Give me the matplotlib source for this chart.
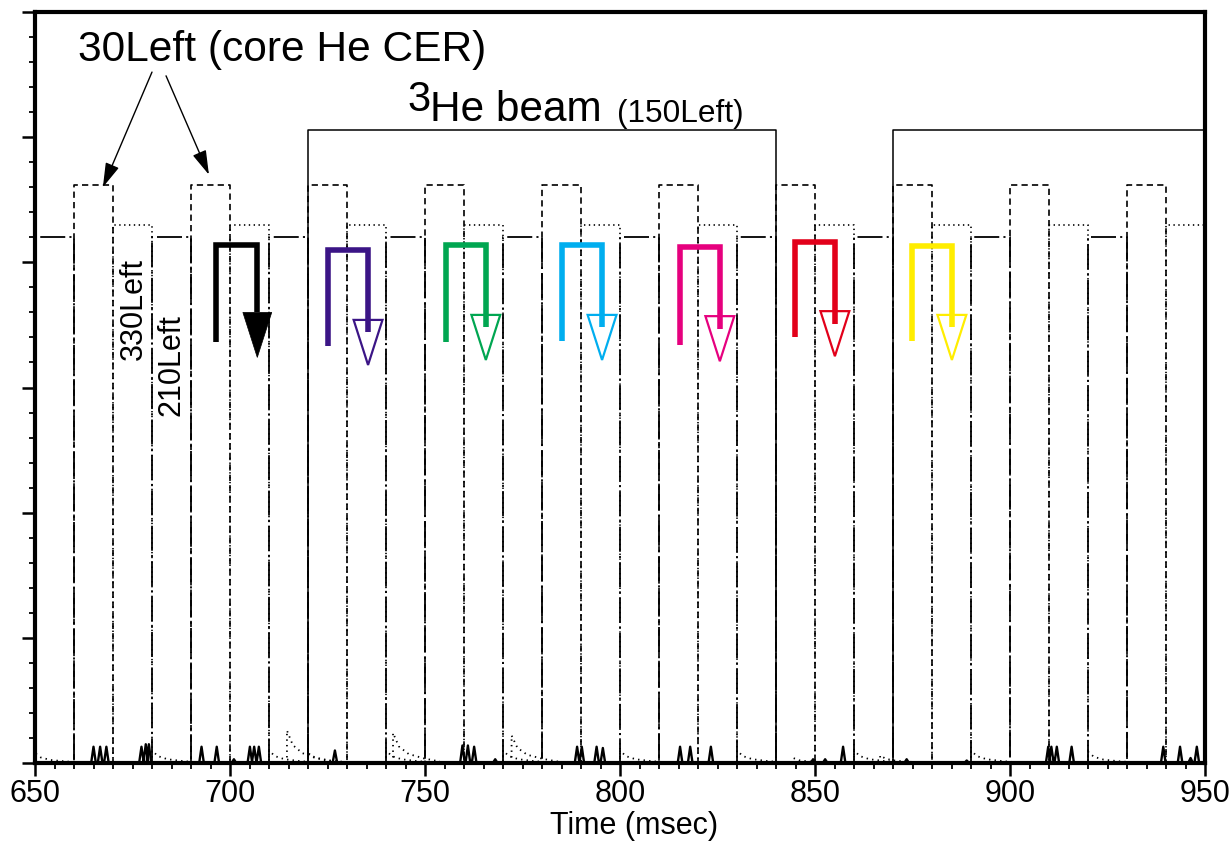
import numpy as np
import matplotlib.pyplot as plt
from matplotlib.patches import Polygon

plt.rcParams['font.family'] = ['Liberation Sans', 'DejaVu Sans']
plt.rcParams['lines.scale_dashes'] = False

# ---------------------------------------------------------------------------
# Data (time in msec, signal in arbitrary units)

t_min, t_max = 650, 950
pulse_len = 10

# CER gate trains
cer30_start = [660, 690, 720, 750, 780, 810, 840, 870, 900, 930]
cer30_level = 4.62
cer330_start = [670, 700, 730, 760, 790, 820, 850, 880, 910, 940]
cer330_level = 4.30
cer210_start = [650, 680, 710, 740, 770, 800, 830, 860, 890, 920]
cer210_level = 4.20

# 3He beam (150Left)
beam_on = [720, 870]
beam_off = [840, 950]
beam_level = 5.06

# small solid noise spikes near the baseline
spike_t = [665.0, 666.7, 668.3, 677.3, 678.4, 679.2, 692.7, 696.6, 701.0,
           705.1, 706.2, 707.4, 726.9, 759.6, 761.0, 762.6, 768.0, 789.0,
           790.2, 794.0, 795.6, 815.4, 818.0, 823.3, 849.5, 852.6, 857.2,
           873.5, 888.9, 909.8, 910.6, 912.0, 915.8, 939.3, 943.6, 946.3, 947.9]
spike_h = [0.13, 0.13, 0.13, 0.13, 0.15, 0.15, 0.13, 0.13, 0.03,
           0.13, 0.13, 0.13, 0.10, 0.14, 0.14, 0.13, 0.03, 0.13,
           0.13, 0.13, 0.12, 0.13, 0.13, 0.13, 0.03, 0.03, 0.13,
           0.03, 0.02, 0.13, 0.13, 0.13, 0.13, 0.13, 0.13, 0.04, 0.13]

# dotted afterglow near the baseline
glow_t = [650, 680, 710, 714.6, 720, 740, 741.8, 770, 772.2, 800, 830, 844.4, 860, 866.7, 890, 920]
glow_h = [0.08, 0.10, 0.10, 0.26, 0.08, 0.10, 0.24, 0.10, 0.22, 0.10, 0.10, 0.04, 0.10, 0.06, 0.10, 0.09]
tail_dt = [0, 0, 1.5, 4, 8, 12]
tail_frac = [0, 1, 0.55, 0.3, 0.15, 0.05]

# bent timing arrows
arrow_x0 = [696.5, 725.0, 755.3, 785.1, 815.4, 844.9, 874.9]
arrow_x1 = [707.0, 735.4, 765.6, 795.4, 825.6, 855.1, 885.1]
arrow_top = [4.14, 4.10, 4.14, 4.14, 4.12, 4.16, 4.13]
arrow_foot = [3.36, 3.33, 3.36, 3.37, 3.34, 3.40, 3.37]
arrow_tip = [3.24, 3.18, 3.22, 3.22, 3.21, 3.25, 3.22]
arrow_color = ['black', '#3B1586', '#00A651', '#00AEEF', '#E6007E', '#E2001A', '#FFED00']
arrow_filled = [True, False, False, False, False, False, False]

# pointers from the 30Left label
ptr_start = [(680.0, 5.52), (683.6, 5.49)]
ptr_tip = [(667.4, 4.60), (694.6, 4.70)]


def pulse_xy(starts, ends, level):
    x, y = [t_min], [0]
    for a, b in zip(starts, ends):
        x += [a, a, b, b]
        y += [0, level, level, 0]
    x.append(t_max)
    y.append(0)
    return x, y


# ---------------------------------------------------------------------------
fig = plt.figure(figsize=(12.3, 8.41), dpi=100)
ax = fig.add_axes([35/1230, 78/841, 1170/1230, 751/841])

x, y = pulse_xy(cer210_start, [s + pulse_len for s in cer210_start], cer210_level)
ax.plot(x, y, color='k', lw=1.3, dashes=(18, 3, 1.5, 3))

x, y = pulse_xy(cer330_start, [s + pulse_len for s in cer330_start], cer330_level)
ax.plot(x, y, color='k', lw=1.2, dashes=(1, 2.5))

x, y = pulse_xy(cer30_start, [s + pulse_len for s in cer30_start], cer30_level)
ax.plot(x, y, color='k', lw=1.2, dashes=(4.5, 3))

x, y = pulse_xy(beam_on, beam_off, beam_level)
ax.plot(x, y, color='k', lw=1.1)

# solid noise
sx, sy = [t_min], [0]
for t, h in zip(spike_t, spike_h):
    sx += [t - 0.6, t, t + 0.6]
    sy += [0, h, 0]
sx.append(t_max)
sy.append(0)
ax.plot(sx, sy, color='k', lw=1.7)

# dotted afterglow
for t, h in zip(glow_t, glow_h):
    gx = [t + d for d in tail_dt]
    gy = [h * f for f in tail_frac]
    ax.plot(gx, gy, color='k', lw=1.3, dashes=(1, 3))

# bent arrows
head_len, head_w = 0.36, 7.4
for x0, x1, top, foot, tip, c, filled in zip(arrow_x0, arrow_x1, arrow_top, arrow_foot,
                                             arrow_tip, arrow_color, arrow_filled):
    base = tip + head_len
    shaft_end = base if filled else base - 0.1
    ax.plot([x0, x0, x1, x1], [foot, top, top, shaft_end], color=c, lw=4,
            solid_joinstyle='miter', solid_capstyle='butt')
    tri = Polygon([(x1 - head_w / 2, base), (x1 + head_w / 2, base), (x1, tip)],
                  closed=True, facecolor=c if filled else 'none', edgecolor=c,
                  lw=1.6 if not filled else 0.5, joinstyle='miter')
    ax.add_patch(tri)

for s, t in zip(ptr_start, ptr_tip):
    ax.annotate('', xy=t, xytext=s,
                arrowprops=dict(arrowstyle='-|>,head_length=0.75,head_width=0.22',
                                mutation_scale=20, lw=1.0, color='k',
                                shrinkA=0, shrinkB=0))

# labels
ax.text(661.0, 5.608, '30Left (core He CER)', fontsize=30.6, va='baseline', ha='left')
ax.text(745.4, 5.208, '3', fontsize=30, va='baseline', ha='left')
ax.text(751.3, 5.128, 'He beam', fontsize=30.5, va='baseline', ha='left')
ax.text(799.2, 5.12, '(150Left)', fontsize=22.8, va='baseline', ha='left')
ax.text(675.4, 3.624, '330Left', fontsize=22, rotation=90, ha='center', va='center')
ax.text(684.9, 3.176, '210Left', fontsize=22, rotation=90, ha='center', va='center')

# axes styling
ax.set_xlim(t_min, t_max)
ax.set_ylim(0, 6)
ax.set_xticks(np.arange(650, 951, 50))
ax.set_xticks(np.arange(650, 951, 5), minor=True)
ax.set_yticks(np.arange(0, 6.01, 1))
ax.set_yticks(np.arange(0, 6.01, 0.2), minor=True)
ax.set_yticklabels([])
ax.tick_params(which='major', direction='out', length=9.5, width=1.8, labelsize=22, pad=2)
ax.tick_params(which='minor', direction='out', length=4.5, width=1.3)
for sp in ax.spines.values():
    sp.set_linewidth(3)

ax.set_xlabel('Time (msec)', fontsize=22)
ax.xaxis.label.set_va('bottom')
ax.xaxis.set_label_coords(0.512, -0.1036)

fig.savefig('out.png', dpi=100)
